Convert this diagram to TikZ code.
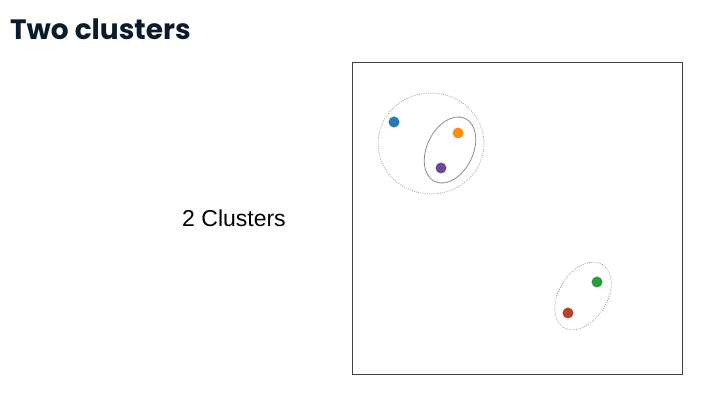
\documentclass[tikz,border=0pt]{standalone}
\usepackage{fontspec}
\setmainfont{Liberation Sans}
\newfontfamily\titlefont{Poppins}
\usepackage{tikz}
\definecolor{ink}{HTML}{0C1B2B}
\definecolor{dotblue}{HTML}{2878B2}
\definecolor{dotorange}{HTML}{FF8C10}
\definecolor{dotpurple}{HTML}{6E4A92}
\definecolor{dotgreen}{HTML}{2E9A3E}
\definecolor{dotred}{HTML}{B5442F}
\tikzset{pt/.style={circle, inner sep=0pt, minimum size=11pt, fill=#1},
	loose/.style={gray!85, line width=0.8pt, dash pattern=on 0.8pt off 1.4pt}}

\begin{document}
\begin{tikzpicture}[x=1pt, y=1pt]
			\useasboundingbox (0,0) rectangle (715,403);
			\node[anchor=base west, inner sep=0pt, text=ink] (title) at (10,363) {\titlefont\fontsize{28}{32}\selectfont\bfseries Two clusters};
			\node[anchor=base, inner sep=0pt] (lbl) at (234,176) {\fontsize{23}{26}\selectfont 2 Clusters};
			\draw[line width=0.9pt, black!75] (352,29) rectangle (682,341);
			% points
			\node[pt=dotblue] (b) at (394,281) {};
			\node[pt=dotorange] (o) at (458,270) {};
			\node[pt=dotpurple] (p) at (441,235) {};
			\node[pt=dotgreen] (g) at (597,121) {};
			\node[pt=dotred] (r) at (568,90) {};
			% clusters
			\draw[loose] (431,259.5) ellipse [x radius=53, y radius=50.5];
			\draw[gray!90, line width=0.8pt] (450,253) ellipse [x radius=35, y radius=23, rotate=64];
			\draw[loose] (583,107) ellipse [x radius=37, y radius=24, rotate=58];
			\end{tikzpicture}
\end{document}
